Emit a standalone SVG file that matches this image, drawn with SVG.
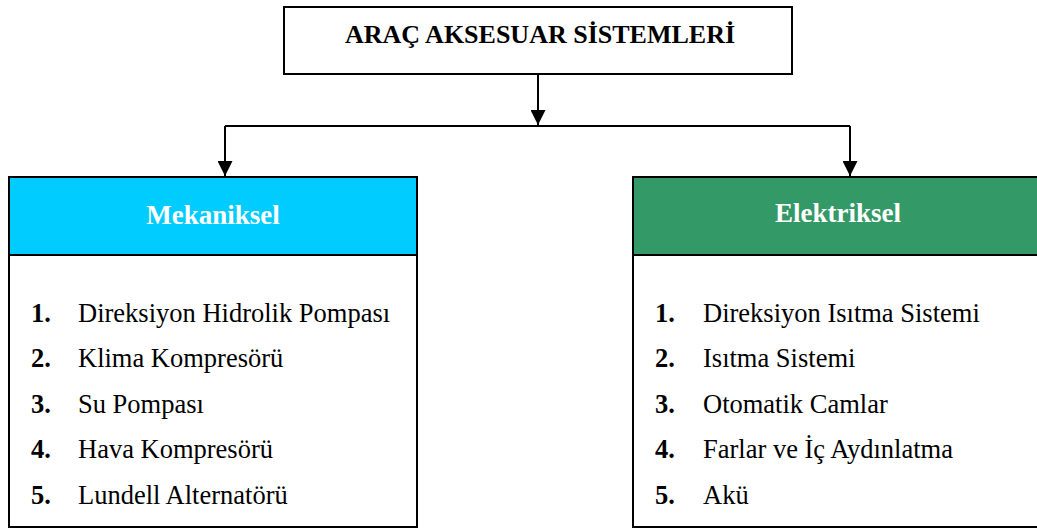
<svg xmlns="http://www.w3.org/2000/svg" width="1037" height="529" viewBox="0 0 1037 529">
<style>
.box{fill:#fff;stroke:#000;stroke-width:2}
.hdr{stroke:#000;stroke-width:2}
.conn{fill:none;stroke:#000;stroke-width:2}
.title{font-family:"Liberation Serif","Times New Roman",serif;font-weight:bold;font-size:26px;fill:#000}
.htxt{font-family:"Liberation Serif","Times New Roman",serif;font-weight:bold;font-size:27px;fill:#fff}
.num{font-family:"Liberation Serif","Times New Roman",serif;font-weight:bold;font-size:26.5px;fill:#000}
.item{font-family:"Liberation Serif","Times New Roman",serif;font-size:26.5px;fill:#000}
</style>
<defs>
<marker id="arr" markerWidth="15" markerHeight="15" refX="15" refY="7.5" orient="auto" markerUnits="userSpaceOnUse">
<path d="M0,0 L15,7.5 L0,15 Z" fill="#000"/>
</marker>
</defs>
<rect width="1037" height="529" fill="#fff"/>
<g id="connectors">
<line class="conn" x1="538" y1="74" x2="538" y2="125" marker-end="url(#arr)"/>
<polyline class="conn" points="225,126 850,126"/>
<line class="conn" x1="225" y1="126" x2="225" y2="176" marker-end="url(#arr)"/>
<line class="conn" x1="850" y1="126" x2="850" y2="176" marker-end="url(#arr)"/>
</g>
<g id="root">
<rect class="box" x="284" y="7" width="508" height="67"/>
<text class="title" x="540" y="43" text-anchor="middle">ARAÇ AKSESUAR SİSTEMLERİ</text>
</g>
<g id="mekaniksel">
<rect class="box" x="9" y="177" width="408" height="350"/>
<rect class="hdr" x="9" y="177" width="408" height="78" fill="#00CCFF"/>
<text class="htxt" x="213" y="224" text-anchor="middle">Mekaniksel</text>
<text class="num" x="31" y="322">1.</text><text class="item" x="78" y="322">Direksiyon Hidrolik Pompası</text>
<text class="num" x="31" y="367">2.</text><text class="item" x="78" y="367">Klima Kompresörü</text>
<text class="num" x="31" y="413">3.</text><text class="item" x="78" y="413">Su Pompası</text>
<text class="num" x="31" y="458">4.</text><text class="item" x="78" y="458">Hava Kompresörü</text>
<text class="num" x="31" y="504">5.</text><text class="item" x="78" y="504">Lundell Alternatörü</text>
</g>
<g id="elektriksel">
<rect class="box" x="633" y="177" width="434" height="350"/>
<rect class="hdr" x="633" y="177" width="434" height="78" fill="#339966"/>
<text class="htxt" x="838" y="222" text-anchor="middle">Elektriksel</text>
<text class="num" x="655" y="322">1.</text><text class="item" x="703" y="322">Direksiyon Isıtma Sistemi</text>
<text class="num" x="655" y="367">2.</text><text class="item" x="703" y="367">Isıtma Sistemi</text>
<text class="num" x="655" y="413">3.</text><text class="item" x="703" y="413">Otomatik Camlar</text>
<text class="num" x="655" y="458">4.</text><text class="item" x="703" y="458">Farlar ve İç Aydınlatma</text>
<text class="num" x="655" y="504">5.</text><text class="item" x="703" y="504">Akü</text>
</g>
</svg>
